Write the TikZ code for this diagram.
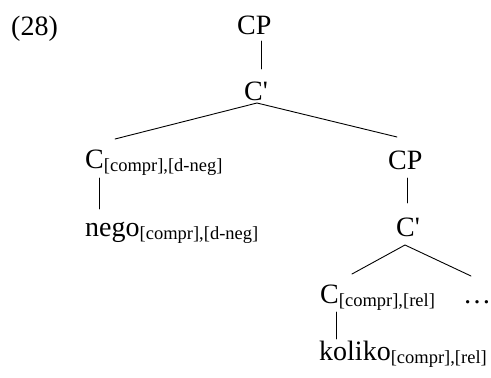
\documentclass[tikz,border=0pt]{standalone}
\usepackage{fontspec}
\setmainfont{Liberation Serif}
\begin{document}
\begin{tikzpicture}[x=1pt,y=-1pt,
  lbl/.style={anchor=base west,inner sep=0pt,font=\fontsize{28}{28}\selectfont},
  branch/.style={line width=0.9pt,line cap=round}]
\newcommand{\feat}[1]{\raisebox{-3pt}{\fontsize{18.5}{18.5}\selectfont #1}}
\useasboundingbox (0,0) rectangle (491,378);
% labels
\node[lbl] (ex)    at (11,35)  {(28)};
\node[lbl] (cp1)   at (237,34) {CP};
\node[lbl] (cb1)   at (244,100) {C\textquotesingle};
\node[lbl] (c1)    at (85,168) {C\feat{[compr],[d-neg]}};
\node[lbl] (nego)  at (85,236) {nego\feat{[compr],[d-neg]}};
\node[lbl] (cp2)   at (388,169) {CP};
\node[lbl] (cb2)   at (396,236) {C\textquotesingle};
\node[lbl] (c2)    at (320,303) {C\feat{[compr],[rel]}};
\node[lbl] (dots)  at (463,303) {\dots};
\node[lbl] (kol)   at (319,360) {koliko\feat{[compr],[rel]}};
% branch end points
\coordinate (cp1-b) at (261,41);
\coordinate (cb1-t) at (261,69);
\coordinate (cb1-b) at (257,103);
\coordinate (c1-t)  at (115,139);
\coordinate (cp2-t) at (397,137);
\coordinate (c1-b)  at (99,178);
\coordinate (nego-t) at (99,209);
\coordinate (cp2-b) at (407,178);
\coordinate (cb2-t) at (407,203);
\coordinate (cb2-b) at (405,245);
\coordinate (c2-t)  at (352,274);
\coordinate (dots-t) at (471,276);
\coordinate (c2-b)  at (336,312);
\coordinate (kol-t) at (336,339);
% branches
\draw[branch] (cp1-b) -- (cb1-t);
\draw[branch] (c1-t) -- (cb1-b) -- (cp2-t);
\draw[branch] (c1-b) -- (nego-t);
\draw[branch] (cp2-b) -- (cb2-t);
\draw[branch] (c2-t) -- (cb2-b) -- (dots-t);
\draw[branch] (c2-b) -- (kol-t);
\end{tikzpicture}
\end{document}
